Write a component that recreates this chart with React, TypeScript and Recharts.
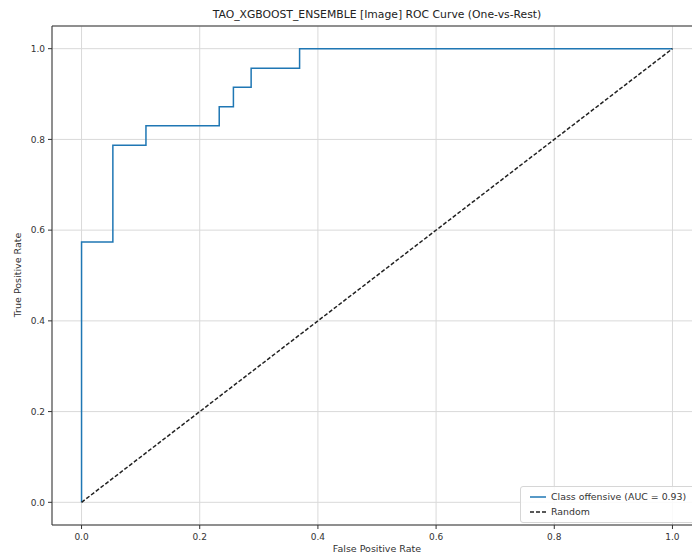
import React from 'react';
import {
  LineChart,
  Line,
  XAxis,
  YAxis,
  CartesianGrid,
  Legend,
  ReferenceLine,
} from 'recharts';

// ROC curve vertices
const fpr = [0, 0, 0.053, 0.053, 0.109, 0.109, 0.233, 0.233, 0.257, 0.257, 0.287, 0.287, 0.369, 0.369, 1.0];
const tpr = [0, 0.574, 0.574, 0.787, 0.787, 0.83, 0.83, 0.872, 0.872, 0.915, 0.915, 0.957, 0.957, 1.0, 1.0];
const randomX = [0, 1];
const randomY = [0, 1];
const ticks = [0, 0.2, 0.4, 0.6, 0.8, 1.0];

const rocData = fpr.map((x, i) => ({ x, roc: tpr[i] }));
const randomData = randomX.map((x, i) => ({ x, rnd: randomY[i] }));

const FONT = '"DejaVu Sans", sans-serif';

const LegendBox = () => (
  <div
    style={{
      background: 'rgba(255,255,255,0.85)',
      border: '1px solid #d6d6d6',
      borderRadius: 3,
      padding: '2px 8px 3px 9px',
      fontFamily: FONT,
      fontSize: 9.4,
      color: '#333',
      width: 190,
      lineHeight: '15px',
    }}
  >
    <div style={{ display: 'flex', alignItems: 'center', whiteSpace: 'nowrap' }}>
      <svg width={16} height={8} style={{ marginRight: 5 }}>
        <line x1={0} y1={4} x2={16} y2={4} stroke="#1f77b4" strokeWidth={1.5} />
      </svg>
      Class offensive (AUC = 0.93)
    </div>
    <div style={{ display: 'flex', alignItems: 'center', whiteSpace: 'nowrap' }}>
      <svg width={16} height={8} style={{ marginRight: 5 }}>
        <line x1={0} y1={4} x2={16} y2={4} stroke="#222" strokeWidth={1.5} strokeDasharray="4 2" />
      </svg>
      Random
    </div>
  </div>
);

const fmt = (v: number) => v.toFixed(1);

export default function App() {
  return (
    <div style={{ position: 'absolute', left: 0, top: 0, width: 692, height: 556, overflow: 'hidden', background: '#fff' }}>
      <div
        style={{
          position: 'absolute',
          left: 52,
          width: 650,
          top: 8,
          textAlign: 'center',
          fontFamily: FONT,
          fontSize: 10.8,
          color: '#222',
        }}
      >
        TAO_XGBOOST_ENSEMBLE [Image] ROC Curve (One-vs-Rest)
      </div>
      <div
        style={{
          position: 'absolute',
          left: 52,
          width: 650,
          top: 543,
          textAlign: 'center',
          fontFamily: FONT,
          fontSize: 9.5,
          color: '#333',
        }}
      >
        False Positive Rate
      </div>
      <div
        style={{
          position: 'absolute',
          left: 17,
          top: 275,
          transform: 'translate(-50%, -50%) rotate(-90deg)',
          whiteSpace: 'nowrap',
          fontFamily: FONT,
          fontSize: 9.5,
          color: '#333',
        }}
      >
        True Positive Rate
      </div>
      <div style={{ position: 'absolute', left: 0, top: 0 }}>
        <LineChart width={712} height={556} margin={{ top: 26, right: 10, bottom: 0, left: 8 }}>
          <CartesianGrid stroke="#d9d9d9" strokeWidth={1} />
          <XAxis
            dataKey="x"
            type="number"
            domain={[-0.05, 1.05]}
            ticks={ticks}
            tickFormatter={fmt}
            allowDuplicatedCategory={false}
            height={31}
            tickSize={4}
            tickMargin={5}
            stroke="#333"
            tick={{ fontSize: 9, fill: '#333', fontFamily: FONT }}
          />
          <YAxis
            type="number"
            domain={[-0.05, 1.05]}
            ticks={ticks}
            tickFormatter={fmt}
            width={44}
            tickSize={4}
            tickMargin={3}
            stroke="#333"
            tick={{ fontSize: 9, fill: '#333', fontFamily: FONT }}
          />
          <ReferenceLine y={1.05} stroke="#333" strokeWidth={1} ifOverflow="visible" />
          <Line
            data={rocData}
            dataKey="roc"
            type="linear"
            stroke="#1f77b4"
            strokeWidth={1.5}
            dot={false}
            isAnimationActive={false}
          />
          <Line
            data={randomData}
            dataKey="rnd"
            type="linear"
            stroke="#222"
            strokeWidth={1.5}
            strokeDasharray="4 2"
            dot={false}
            isAnimationActive={false}
          />
          <Legend
            layout="vertical"
            align="center"
            verticalAlign="middle"
            content={() => <LegendBox />}
            wrapperStyle={{ position: 'absolute', left: 520, top: 486, width: 200, bottom: 'auto', right: 'auto' }}
          />
        </LineChart>
      </div>
    </div>
  );
}
